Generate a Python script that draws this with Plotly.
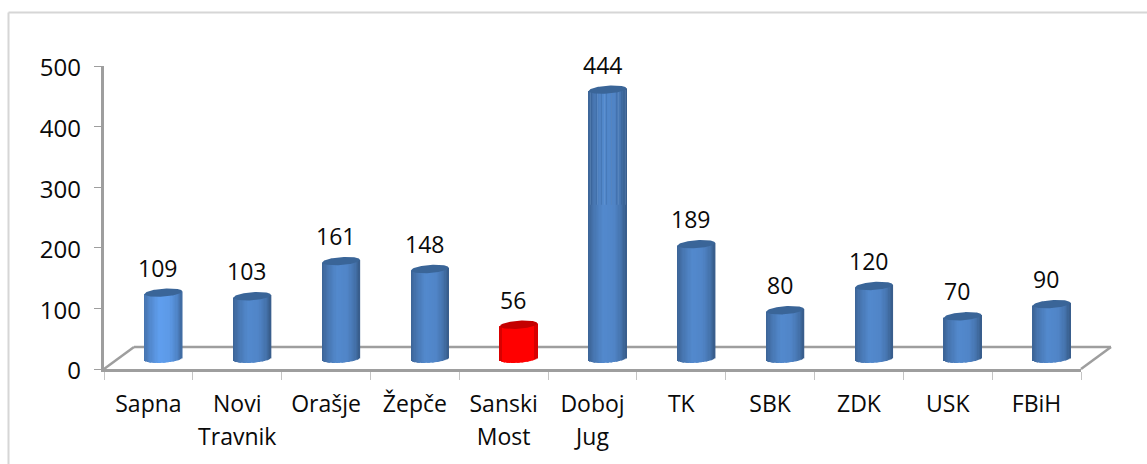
import math
import plotly.graph_objects as go

first_lines = ["Sapna", "Novi", "Orašje", "Žepče", "Sanski", "Doboj", "TK", "SBK", "ZDK", "USK", "FBiH"]
second_lines = ["", "Travnik", "", "", "Most", "Jug", "", "", "", "", ""]
values = [109, 103, 161, 148, 56, 444, 189, 80, 120, 70, 90]
body_colors = ["#5b97e3", "#4f83c4", "#4f83c4", "#4f83c4", "#ff0000", "#4f83c4",
               "#4f83c4", "#4f83c4", "#4f83c4", "#4f83c4", "#4f83c4"]
cap_colors = ["#3a6598", "#3a6598", "#3a6598", "#3a6598", "#c40000", "#3a6598",
              "#3a6598", "#3a6598", "#3a6598", "#3a6598", "#3a6598"]
y_ticks = [0, 100, 200, 300, 400, 500]

W, H = 1147, 464
L, R, T, B = 104, 1081, 66, 369
LABEL_DROP = 2                  # tick labels sit this many px below their ticks
PB = B + LABEL_DROP             # bottom of the plotting area
FONT = "Open Sans"
TEXT = "#0a0a0a"
AXIS = "#9e9e9e"

n = len(values)
cat_px = (R - L) / n
y_px = (B - T) / 500
dx_units = 15 / cat_px          # depth shift of the columns, right
dy_units = 10.3 / y_px          # depth shift of the columns, up
half = 18.8 / cat_px
tilt = 1.35 / y_px
semi = 4.0 / y_px
x_positions = list(range(n))


def px_x(p):
    return (p - L) / (R - L)


def px_y(p):
    return (PB - p) / (PB - T)


def shade(hex_color, factor):
    rgb = [int(hex_color[i:i + 2], 16) for i in (1, 3, 5)]
    return "rgb(" + ",".join(str(min(255, int(c * factor))) for c in rgb) + ")"


def light(u):
    # horizontal cylinder shading: u runs from -1 (left) to 1 (right)
    stops = [(-1, 0.76), (-0.7, 0.9), (-0.2, 1.05), (0.35, 1.02), (0.75, 0.88), (1, 0.7)]
    for (a, fa), (b, fb) in zip(stops, stops[1:]):
        if u <= b:
            return fa + (fb - fa) * (u - a) / (b - a)
    return stops[-1][1]


fig = go.Figure()

STRIPS = 30
for s in range(STRIPS):
    u0 = -1 + 2 * s / STRIPS
    u = u0 + 1 / STRIPS
    low = tilt * u - semi * math.sqrt(1 - u * u)
    fig.add_trace(go.Bar(
        x=x_positions,
        y=[v + tilt * u - low for v in values],
        base=[low] * n,
        offset=half * u0,
        width=2 * half / STRIPS * 1.25,
        marker=dict(color=[(shade(c, 1.0 if abs(u) < 0.9 else 0.85) if c == "#ff0000" else shade(c, light(u)))
                           for c in body_colors], line=dict(width=0)),
        xaxis="x2", yaxis="y2", hoverinfo="skip", showlegend=False,
    ))

# mottled rendering patch on the tallest column
tall = values.index(max(values))
for size, solidity, colour in [(5, 0.25, "rgba(40,80,130,0.5)"), (7, 0.15, "rgba(125,165,215,0.5)")]:
    fig.add_trace(go.Bar(
        x=[tall], y=[values[tall] - 254], base=[254], width=2 * half,
        marker=dict(color="rgba(0,0,0,0)", line=dict(width=0),
                    pattern=dict(shape="|", fgcolor=colour, bgcolor="rgba(0,0,0,0)",
                                 size=size, solidity=solidity)),
        xaxis="x2", yaxis="y2", hoverinfo="skip", showlegend=False,
    ))

# column caps
for i, v in enumerate(values):
    us = [-1 + 2 * k / 40 for k in range(41)]
    xs = [i + half * u for u in us] + [i + half * u for u in reversed(us)]
    ys = [v + tilt * u + semi * math.sqrt(1 - u * u) for u in us] + \
         [v + tilt * u - semi * math.sqrt(1 - u * u) for u in reversed(us)]
    fig.add_trace(go.Scatter(
        x=xs, y=ys, mode="lines", fill="toself", fillcolor=cap_colors[i],
        line=dict(width=0, color=cap_colors[i]),
        xaxis="x2", yaxis="y2", hoverinfo="skip", showlegend=False,
    ))

annotations = [
    dict(x=i, y=v, xref="x2", yref="y2", text=str(v), showarrow=False,
         xshift=-5.5, yshift=25, xanchor="center", yanchor="middle",
         font=dict(family=FONT, size=23, color=TEXT))
    for i, v in enumerate(values)
]

line = dict(color=AXIS, width=2.5)
bx0, by0 = 134, 347
shapes = [
    dict(type="line", xref="paper", yref="paper", x0=px_x(L), y0=px_y(B), x1=px_x(bx0), y1=px_y(by0), line=line, layer="below"),
    dict(type="line", xref="paper", yref="paper", x0=px_x(bx0), y0=px_y(by0), x1=px_x(R + 30), y1=px_y(by0), line=line, layer="below"),
    dict(type="line", xref="paper", yref="paper", x0=px_x(R), y0=px_y(B), x1=px_x(R + 30), y1=px_y(by0), line=line, layer="below"),
    dict(type="line", xref="paper", yref="paper", x0=px_x(8.5), x1=px_x(W), y0=px_y(12.5), y1=px_y(12.5),
         line=dict(color="#d6d6d6", width=2), layer="below"),
    dict(type="line", xref="paper", yref="paper", x0=px_x(8.5), x1=px_x(8.5), y0=px_y(12.5), y1=px_y(H),
         line=dict(color="#d6d6d6", width=2), layer="below"),
]

x_range = [-0.5, n - 0.5]
y_domain = [LABEL_DROP / (PB - T), 1]
fig.update_layout(
    width=W, height=H, margin=dict(l=L, r=W - R, t=T, b=H - PB),
    paper_bgcolor="white", plot_bgcolor="rgba(0,0,0,0)", showlegend=False,
    barmode="overlay", shapes=shapes, annotations=annotations,
    font=dict(family=FONT, size=23, color=TEXT),
    xaxis=dict(range=x_range, tickmode="array", tickvals=[k - 0.5 for k in range(n + 1)],
               ticktext=[""] * (n + 1), ticks="outside", ticklen=8, tickcolor="#c4c4c4", tickwidth=1,
               showgrid=False, zeroline=False, showline=True, linecolor=AXIS, linewidth=2.5, anchor="y"),
    xaxis2=dict(range=[-0.5 - dx_units, n - 0.5 - dx_units], overlaying="x", visible=False, anchor="y2"),
    xaxis3=dict(range=x_range, overlaying="x", tickmode="array", tickvals=x_positions, ticktext=first_lines,
                ticks="", ticklabelstandoff=19, showgrid=False, zeroline=False, showline=False,
                tickfont=dict(family=FONT, size=23, color=TEXT), anchor="y", side="bottom"),
    xaxis4=dict(range=x_range, overlaying="x", tickmode="array", tickvals=x_positions, ticktext=second_lines,
                ticks="", ticklabelstandoff=52, showgrid=False, zeroline=False, showline=False,
                tickfont=dict(family=FONT, size=23, color=TEXT), anchor="y", side="bottom"),
    yaxis=dict(domain=y_domain, range=[0, 500], tickmode="array", tickvals=y_ticks, ticks="outside", ticklen=7,
               tickcolor=AXIS, tickwidth=1, showticklabels=False,
               showgrid=False, zeroline=False, showline=True, linecolor=AXIS, linewidth=2.5, anchor="x"),
    yaxis2=dict(range=[-dy_units, 500 - dy_units], overlaying="y", visible=False, anchor="x2"),
    yaxis3=dict(domain=[0, 1 - LABEL_DROP / (PB - T)], range=[0, 500], tickmode="array", tickvals=y_ticks,
                ticks="", ticklabelstandoff=22, showgrid=False, zeroline=False, showline=False,
                tickfont=dict(family=FONT, size=24, color=TEXT), anchor="x"),
)

# axes that carry only tick labels need a trace to stay drawn
fig.add_trace(go.Scatter(x=x_positions, y=[None] * n, xaxis="x3", yaxis="y", hoverinfo="skip", showlegend=False))
fig.add_trace(go.Scatter(x=x_positions, y=[None] * n, xaxis="x4", yaxis="y", hoverinfo="skip", showlegend=False))
fig.add_trace(go.Scatter(x=x_positions, y=[None] * n, xaxis="x", yaxis="y", hoverinfo="skip", showlegend=False))
fig.add_trace(go.Scatter(x=x_positions, y=[None] * n, xaxis="x", yaxis="y3", hoverinfo="skip", showlegend=False))

fig.write_html("out.html", config=dict(displayModeBar=False),
               post_script="document.body.style.margin='0';document.body.style.overflow='hidden';")
